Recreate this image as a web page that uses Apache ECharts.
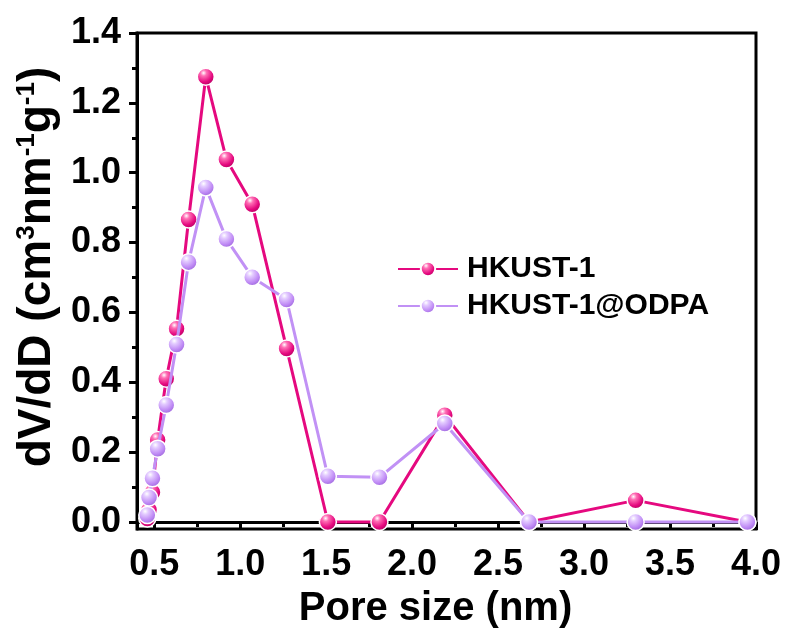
<!DOCTYPE html>
<html>
<head>
<meta charset="utf-8">
<script src="https://cdn.jsdelivr.net/npm/echarts@6/dist/echarts.min.js"></script>
<style>
  html, body { margin: 0; padding: 0; background: #fff; }
  #chart { width: 789px; height: 636px; }
</style>
</head>
<body>
<div id="chart"></div>
<script>
// pore size (nm), shared by both samples
var poreSize = [0.46, 0.47, 0.49, 0.52, 0.57, 0.63, 0.70, 0.80, 0.92, 1.07, 1.27, 1.51, 1.81, 2.19, 2.68, 3.30, 3.95];
var hkust = [0.01, 0.035, 0.085, 0.235, 0.41, 0.553, 0.866, 1.275, 1.038, 0.91, 0.497, 0.0, 0.0, 0.306, 0.0, 0.062, 0.0];
var hkustOdpa = [0.02, 0.07, 0.125, 0.21, 0.335, 0.508, 0.744, 0.958, 0.81, 0.701, 0.637, 0.131, 0.128, 0.282, 0.0, 0.0, 0.0];

var xLabels = [0.5, 1.0, 1.5, 2.0, 2.5, 3.0, 3.5, 4.0];
var xMinor = [0.75, 1.25, 1.75, 2.25, 2.75, 3.25, 3.75];
var yLabels = [0, 0.2, 0.4, 0.6, 0.8, 1.0, 1.2, 1.4];
var yMinor = [0.1, 0.3, 0.5, 0.7, 0.9, 1.1, 1.3];

var FONT = '"Liberation Sans", Arial, sans-serif';

function pairs(xs, ys) {
  var out = [];
  for (var i = 0; i < xs.length; i++) out.push([xs[i], ys[i]]);
  return out;
}

// shaded "ball" look for the markers
function ball(light, mid, dark) {
  return {
    type: 'radial', x: 0.38, y: 0.3, r: 0.75,
    colorStops: [
      { offset: 0, color: '#ffffff' },
      { offset: 0.22, color: light },
      { offset: 0.65, color: mid },
      { offset: 1, color: dark }
    ]
  };
}

var chart = echarts.init(document.getElementById('chart'));

var option = {
  animation: false,
  backgroundColor: '#fff',
  grid: {
    left: 137, top: 33, width: 619, height: 496,
    show: true, borderColor: '#000', borderWidth: 3, backgroundColor: 'transparent'
  },
  legend: {
    orient: 'vertical',
    left: 392, top: 249,
    itemWidth: 60, itemHeight: 18, itemGap: 7,
    textStyle: { fontFamily: FONT, fontWeight: 'bold', fontSize: 30, color: '#000', padding: [0, 0, 0, 4] },
    data: ['HKUST-1', 'HKUST-1@ODPA']
  },
  xAxis: [{
    type: 'value', min: 0.4, max: 4.0,
    name: 'Pore size (nm)', nameLocation: 'middle', nameGap: 60,
    nameTextStyle: { fontFamily: FONT, fontWeight: 'bold', fontSize: 40, color: '#000', padding: [0, 22, 0, 0] },
    axisLine: { show: true, lineStyle: { color: '#000', width: 3 } },
    axisTick: { show: true, inside: false, length: 8, customValues: xLabels, lineStyle: { color: '#000', width: 3 } },
    axisLabel: {
      customValues: xLabels, margin: 18,
      fontFamily: FONT, fontWeight: 'bold', fontSize: 36, color: '#000',
      formatter: function (v) { return v.toFixed(1); }
    },
    splitLine: { show: false }
  }, {
    type: 'value', min: 0.4, max: 4.0, position: 'bottom',
    axisLine: { show: false },
    axisTick: { show: true, length: 5, customValues: xMinor, lineStyle: { color: '#000', width: 3 } },
    axisLabel: { show: false },
    splitLine: { show: false }
  }],
  yAxis: [{
    type: 'value', min: -0.02, max: 1.4,
    name: '{n|dV/dD (cm}{s|3}{n|nm}{s|-1}{n|g}{s|-1}{n|)}',
    nameLocation: 'middle', nameGap: 71, nameRotate: 90,
    nameTextStyle: {
      padding: [0, 0, 0, 28],
      rich: {
        n: { fontFamily: FONT, fontWeight: 'bold', fontSize: 46, color: '#000' },
        s: { fontFamily: FONT, fontWeight: 'bold', fontSize: 26, color: '#000', verticalAlign: 'top', lineHeight: 47 }
      }
    },
    axisLine: { show: true, lineStyle: { color: '#000', width: 3 } },
    axisTick: { show: true, length: 8, customValues: yLabels, lineStyle: { color: '#000', width: 3 } },
    axisLabel: {
      customValues: yLabels, margin: 16,
      fontFamily: FONT, fontWeight: 'bold', fontSize: 36, color: '#000',
      formatter: function (v) { return v.toFixed(1); }
    },
    splitLine: { show: false }
  }, {
    type: 'value', min: -0.02, max: 1.4, position: 'left',
    axisLine: { show: false },
    axisTick: { show: true, length: 5, customValues: yMinor, lineStyle: { color: '#000', width: 3 } },
    axisLabel: { show: false },
    splitLine: { show: false }
  }],
  series: [{
    name: 'HKUST-1',
    type: 'line',
    data: pairs(poreSize, hkust),
    symbol: 'circle', symbolSize: 17,
    lineStyle: { color: '#e5097f', width: 3 },
    itemStyle: { color: ball('#ff6fb5', '#e5097f', '#a8005a'), borderColor: '#fff', borderWidth: 1.5 },
    z: 2
  }, {
    name: 'HKUST-1@ODPA',
    type: 'line',
    data: pairs(poreSize, hkustOdpa),
    symbol: 'circle', symbolSize: 17,
    lineStyle: { color: '#c191f5', width: 3 },
    itemStyle: { color: ball('#e3cbff', '#bf8af5', '#9660d6'), borderColor: '#fff', borderWidth: 1.5 },
    z: 3
  }]
};

chart.setOption(option);
</script>
</body>
</html>
